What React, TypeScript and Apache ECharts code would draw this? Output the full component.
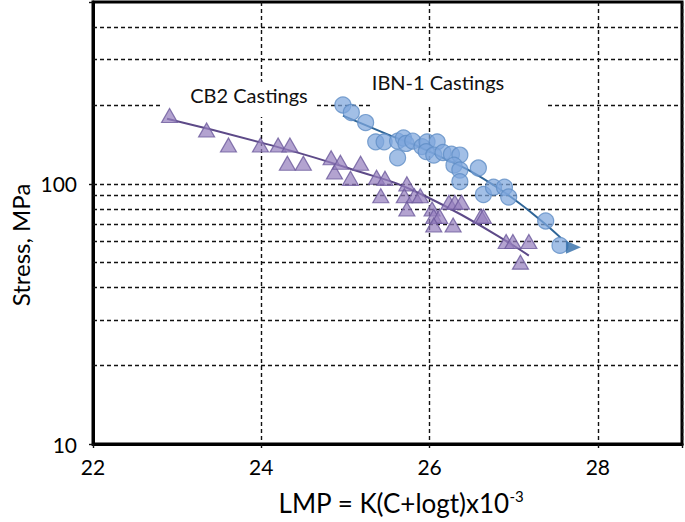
import React, { useEffect, useRef } from "react";
import * as echarts from "echarts";

// IBN-1 castings (circles)
const ibnLmp = [24.97, 25.07, 25.24, 25.36, 25.46, 25.62, 25.62, 25.69, 25.72, 25.8, 25.91, 25.97, 26.09, 25.96, 26.05, 26.16, 26.26, 26.36, 26.29, 26.36, 26.36, 26.58, 26.64, 26.76, 26.89, 26.94, 27.38, 27.55];
const ibnStress = [201, 188, 172, 145, 145, 126, 146, 150, 143, 146, 139, 145, 145, 133, 129, 132, 130, 129, 118, 113, 102, 115, 91, 97, 97, 89, 72, 58];
// IBN-1 run-out (arrow)
const ibnRunoutLmp = [27.71];
const ibnRunoutStress = [57];
// IBN-1 trend line
const ibnFitLmp = [24.97, 25.5, 26.0, 26.8, 27.56];
const ibnFitStress = [183, 155, 133, 97, 62];

// CB2 castings (triangles)
const cb2Lmp = [22.91, 23.35, 23.61, 23.99, 24.2, 24.34, 24.31, 24.5, 24.83, 24.87, 24.94, 25.06, 25.18, 25.37, 25.47, 25.42, 25.73, 25.7, 25.82, 25.89, 25.73, 26.03, 26.05, 26.12, 26.05, 26.28, 26.23, 26.3, 26.38, 26.61, 26.64, 26.91, 26.99, 27.18, 27.08];
const cb2Stress = [183, 161, 141, 141, 141, 141, 120, 120, 126, 111, 121, 105, 120, 106, 105, 90, 100, 90, 90, 90, 80, 80, 75, 75, 69.5, 69.5, 85, 85, 85, 75, 75, 60, 60, 60, 50];
// CB2 trend line
const cb2FitLmp = [22.88, 24.0, 25.03, 25.97, 27.18];
const cb2FitStress = [178, 144, 115, 89, 53];

// axes
const xMin = 22;
const xMax = 29;
const xStep = 2;
const yMin = 10;
const yMax = 500;
const stressGridLines = [20, 30, 40, 50, 60, 70, 80, 90, 100, 200, 300, 400];

const FONT = "Lato, 'Open Sans', sans-serif";

const zip = (a: number[], b: number[]) => a.map((v, i) => [v, b[i]]);

export default function App() {
  const ref = useRef<HTMLDivElement>(null);
  useEffect(() => {
    if (!ref.current) return;
    const chart = echarts.init(ref.current, null, { renderer: "svg" });
    const dash = { type: [4, 3] as any, color: "#111", width: 1.4 };
    chart.setOption({
      animation: false,
      backgroundColor: "#fff",
      grid: {
        left: 93,
        right: 1,
        top: 2,
        bottom: 78,
        show: true,
        borderColor: "#000",
        borderWidth: 3,
      },
      xAxis: {
        type: "value",
        min: xMin,
        max: xMax,
        interval: xStep,
        axisLine: { show: true, lineStyle: { color: "#000", width: 3 } },
        axisTick: { show: true, inside: false, length: 7, lineStyle: dash },
        splitLine: { show: true, lineStyle: dash },
        axisLabel: {
          color: "#000",
          fontFamily: FONT,
          fontSize: 21,
          margin: 12,
          formatter: (v: number) => (v % 2 === 0 && v < xMax ? String(v) : ""),
        },
      },
      yAxis: {
        type: "log",
        logBase: 10,
        min: yMin,
        max: yMax,
        axisLine: { show: true, lineStyle: { color: "#000", width: 3 } },
        axisTick: { show: true, length: 7, lineStyle: dash },
        splitLine: { show: false },
        axisLabel: {
          color: "#000",
          fontFamily: FONT,
          fontSize: 21,
          margin: 16,
          formatter: (v: number) => {
            const l = Math.log10(v);
            return Math.abs(l - Math.round(l)) < 1e-6 && v <= 100 ? String(Math.round(v)) : "";
          },
        },
      },
      graphic: [
        { type: "rect", z: 10, shape: { x: 162, y: 82, width: 155, height: 35 }, style: { fill: "#fff" } },
        { type: "rect", z: 10, shape: { x: 371, y: 64, width: 176, height: 43 }, style: { fill: "#fff" } },
        {
          type: "text", z: 11, x: 249, y: 95,
          style: { text: "CB2 Castings", fontFamily: FONT, fontSize: 20, fill: "#111", align: "center", verticalAlign: "middle" },
        },
        {
          type: "text", z: 11, x: 438, y: 82,
          style: { text: "IBN-1 Castings", fontFamily: FONT, fontSize: 20, fill: "#111", align: "center", verticalAlign: "middle" },
        },
        {
          type: "text", z: 11, x: 20, y: 245, rotation: Math.PI / 2,
          style: { text: "Stress, MPa", fontFamily: FONT, fontSize: 24, fill: "#000", align: "center", verticalAlign: "middle" },
        },
        {
          type: "text", z: 11, x: 401, y: 503,
          style: {
            text: "{a|LMP = K(C+logt)x10}{s|-3}",
            align: "center",
            verticalAlign: "middle",
            rich: {
              a: { fontFamily: FONT, fontSize: 26, fill: "#000", color: "#000" },
              s: { fontFamily: FONT, fontSize: 15, fill: "#000", color: "#000", verticalAlign: "top", padding: [0, 0, 15, 0] },
            },
          },
        },
      ],
      series: [
        {
          name: "grid",
          type: "scatter",
          data: [],
          silent: true,
          z: 1,
          markLine: {
            z: 1,
            silent: true,
            symbol: ["none", "none"],
            label: { show: false },
            lineStyle: dash,
            data: stressGridLines.map((v) => ({ yAxis: v })),
          },
        },
        {
          name: "CB2 fit",
          type: "line",
          smooth: true,
          showSymbol: false,
          z: 20,
          data: zip(cb2FitLmp, cb2FitStress),
          lineStyle: { color: "#5d4a88", width: 2 },
        },
        {
          name: "IBN-1 fit",
          type: "line",
          smooth: true,
          showSymbol: false,
          z: 20,
          data: zip(ibnFitLmp, ibnFitStress),
          lineStyle: { color: "#2f6597", width: 2 },
        },
        {
          name: "CB2 Castings",
          type: "scatter",
          symbol: "triangle",
          symbolSize: [16, 14],
          z: 21,
          data: zip(cb2Lmp, cb2Stress),
          itemStyle: { color: "rgba(150,128,190,0.9)", borderColor: "#6d5a9c", borderWidth: 1.2 },
        },
        {
          name: "IBN-1 Castings",
          type: "scatter",
          symbol: "circle",
          symbolSize: 16,
          z: 21,
          data: zip(ibnLmp, ibnStress),
          itemStyle: { color: "rgba(126,166,220,0.9)", borderColor: "#5f8dc6", borderWidth: 1.2 },
        },
        {
          name: "IBN-1 run-out",
          type: "scatter",
          symbol: "triangle",
          symbolSize: [13, 15],
          symbolRotate: -90,
          z: 22,
          data: zip(ibnRunoutLmp, ibnRunoutStress),
          itemStyle: { color: "#2e6aa6" },
        },
      ],
    });
    return () => chart.dispose();
  }, []);
  return <div ref={ref} style={{ position: "fixed", left: 0, top: 0, width: 685, height: 522 }} />;
}
